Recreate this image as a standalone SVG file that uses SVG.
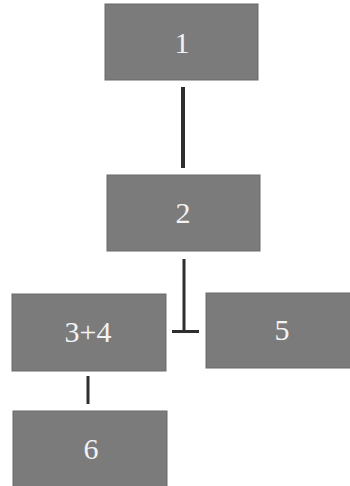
<svg xmlns="http://www.w3.org/2000/svg" width="350" height="486" viewBox="0 0 350 486">
<style>
.box{fill:#7b7b7b;stroke:#6a6a6a;stroke-width:1}
.lbl{font-family:"Liberation Serif",serif;font-size:30px;fill:#f2f2f2;text-anchor:middle}
.conn{stroke:#2e2e2e;fill:none}
</style>
<rect width="350" height="486" fill="#ffffff"/>
<g id="node1"><rect class="box" x="105" y="4" width="153" height="76"/><text class="lbl" x="182" y="53">1</text></g>
<g id="node2"><rect class="box" x="107" y="175" width="153" height="76"/><text class="lbl" x="183" y="223">2</text></g>
<g id="node34"><rect class="box" x="12" y="294" width="154" height="77"/><text class="lbl" x="88" y="342">3+4</text></g>
<g id="node5"><rect class="box" x="206" y="293" width="150" height="75"/><text class="lbl" x="282" y="340">5</text></g>
<g id="node6"><rect class="box" x="13" y="411" width="154" height="80"/><text class="lbl" x="91" y="459">6</text></g>
<g id="connectors">
<line class="conn" x1="183" y1="87" x2="183" y2="168" stroke-width="4"/>
<line class="conn" x1="184" y1="259" x2="184" y2="332" stroke-width="3"/>
<line class="conn" x1="172" y1="331.5" x2="199" y2="331.5" stroke-width="3"/>
<line class="conn" x1="88" y1="376" x2="88" y2="404" stroke-width="3"/>
</g>
</svg>
